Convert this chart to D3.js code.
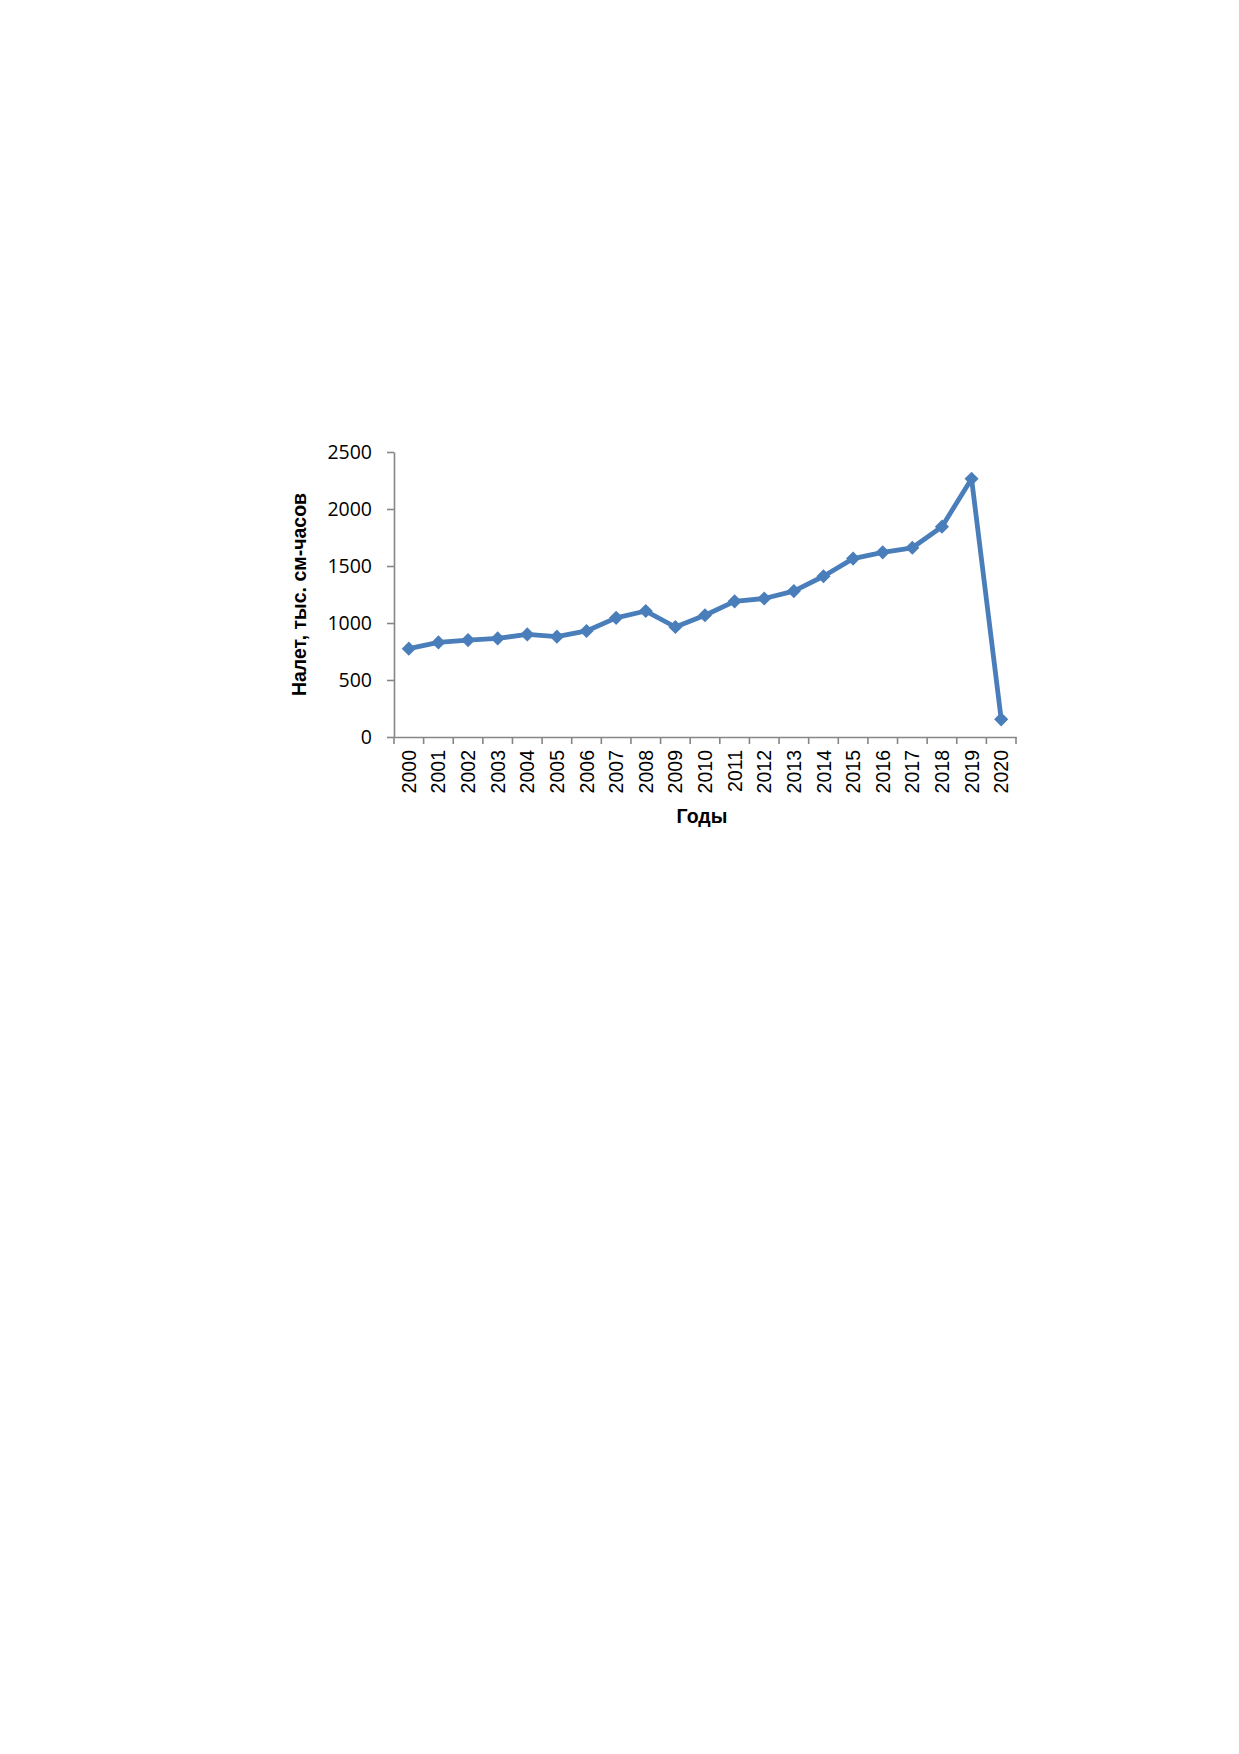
<!DOCTYPE html>
<html><head><meta charset="UTF-8"><title>Налет</title>
<script src="https://cdn.jsdelivr.net/npm/d3@7"></script>
<style>
  body { margin: 0; background: #fff; }
</style>
</head><body>
<svg width="1239" height="1754"></svg>
<script>
// данные
var years = ["2000","2001","2002","2003","2004","2005","2006","2007","2008","2009","2010",
             "2011","2012","2013","2014","2015","2016","2017","2018","2019","2020"];
var values = [775, 830, 850, 865, 900, 880, 930, 1045, 1105, 965, 1068,
              1190, 1215, 1280, 1410, 1565, 1620, 1660, 1845, 2265, 155];
var yTicks = [0, 500, 1000, 1500, 2000, 2500];
var yTitle = "Налет, тыс. см-часов";
var xTitle = "Годы";

var svg = d3.select("svg");
var pLeft = 394, pRight = 1016, pTop = 452, pBottom = 737;
var axisColor = "#868686", lineColor = "#4A7EBB";

var x = d3.scaleBand().domain(years).range([pLeft, pRight]).padding(0);
var y = d3.scaleLinear().domain([0, 2500]).range([pBottom, pTop]);

// ось Y
var gy = svg.append("g").attr("transform", "translate(" + pLeft + ",0)")
    .call(d3.axisLeft(y).tickValues(yTicks).tickFormat(d3.format("d"))
        .tickSize(7).tickPadding(15).tickSizeOuter(0));
gy.select(".domain").attr("stroke", axisColor).attr("stroke-width", 1.6);
gy.selectAll(".tick line").attr("stroke", axisColor).attr("stroke-width", 1.6);
gy.selectAll(".tick text").attr("font-family", "'Open Sans'").attr("font-size", 19.5)
    .attr("fill", "#000");

// ось X: подписи
var gx = svg.append("g").attr("transform", "translate(0," + pBottom + ")")
    .call(d3.axisBottom(x).tickSize(0).tickSizeOuter(0));
gx.select(".domain").attr("stroke", axisColor).attr("stroke-width", 1.6);
gx.selectAll(".tick text")
    .attr("font-family", "'Liberation Sans', Arial").attr("font-size", 19.5).attr("fill", "#000")
    .attr("text-anchor", "end")
    .attr("transform", "rotate(-90)")
    .attr("x", -13).attr("y", 0).attr("dy", "0.36em");

// засечки между категориями
var bounds = years.map(function (d) { return x(d); }).concat([x.range()[1]]);
svg.append("g").selectAll("line").data(bounds).enter().append("line")
    .attr("x1", function (d) { return d; }).attr("x2", function (d) { return d; })
    .attr("y1", pBottom).attr("y2", pBottom + 7)
    .attr("stroke", axisColor).attr("stroke-width", 1.6);

// линия
var pts = years.map(function (d, i) { return [x(d) + x.bandwidth() / 2, y(values[i])]; });
svg.append("path").datum(pts)
    .attr("d", d3.line())
    .attr("fill", "none").attr("stroke", lineColor).attr("stroke-width", 4.8)
    .attr("stroke-linejoin", "round");

// маркеры-ромбы
var sym = d3.symbol(d3.symbolSquare, 100);
svg.append("g").selectAll("path").data(pts).enter().append("path")
    .attr("d", sym)
    .attr("transform", function (d) { return "translate(" + d[0] + "," + d[1] + ") rotate(45)"; })
    .attr("fill", lineColor);

// подписи осей
svg.append("text")
    .attr("transform", "translate(306," + ((pTop + pBottom) / 2) + ") rotate(-90)")
    .attr("text-anchor", "middle")
    .attr("font-family", "'Liberation Sans', Arial").attr("font-weight", "bold").attr("font-size", 19.5)
    .text(yTitle);

svg.append("text")
    .attr("x", (pLeft + pRight) / 2 - 3).attr("y", 823)
    .attr("text-anchor", "middle")
    .attr("font-family", "'Liberation Sans', Arial").attr("font-weight", "bold").attr("font-size", 19.5)
    .text(xTitle);
</script>
</body></html>
